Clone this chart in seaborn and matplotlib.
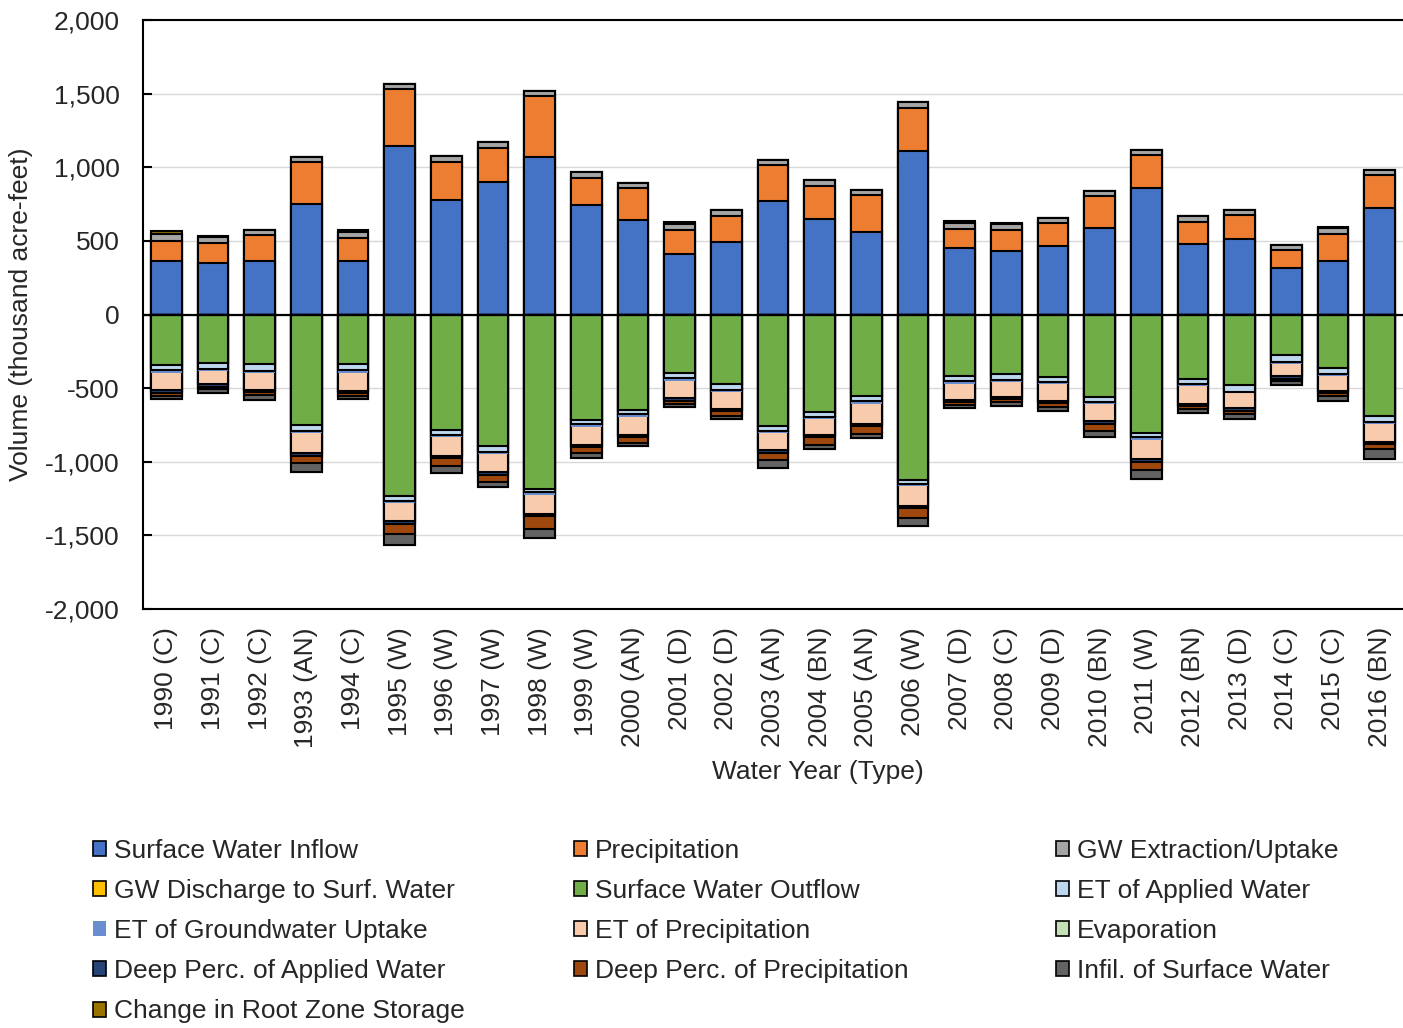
import numpy as np
import pandas as pd
import matplotlib
matplotlib.use("Agg")
import matplotlib.pyplot as plt
from matplotlib.patches import Patch
from matplotlib.ticker import FuncFormatter, MultipleLocator
import seaborn as sns

# Water years and year types
years = [1990, 1991, 1992, 1993, 1994, 1995, 1996, 1997, 1998, 1999, 2000, 2001, 2002,
         2003, 2004, 2005, 2006, 2007, 2008, 2009, 2010, 2011, 2012, 2013, 2014, 2015, 2016]
year_types = ["C", "C", "C", "AN", "C", "W", "W", "W", "W", "W", "AN", "D", "D",
              "AN", "BN", "AN", "W", "D", "C", "D", "BN", "W", "BN", "D", "C", "C", "BN"]

# Inflows (thousand acre-feet)
sw_inflow = [366, 348, 362, 749, 366, 1147, 780, 898, 1072, 744, 642, 409, 495,
             769, 649, 559, 1113, 450, 428, 466, 586, 857, 477, 513, 317, 364, 722]
precipitation = [134, 136, 176, 287, 154, 384, 256, 233, 410, 181, 218, 166, 175,
                 244, 222, 251, 289, 134, 147, 154, 222, 229, 152, 161, 120, 181, 228]
gw_extraction = [44, 43, 39, 34, 38, 37, 41, 43, 36, 45, 36, 40, 40,
                 34, 41, 34, 39, 36, 39, 34, 29, 34, 38, 39, 38, 42, 34]
gw_discharge = [0, 0, 0, 0, 0, 0, 0, 0, 0, 0, 0, 0, 0,
                0, 0, 0, 0, 0, 0, 0, 0, 0, 0, 0, 0, 0, 0]
# Change in root zone storage (positive = release from storage)
root_zone_change = [26, 4, 0, 0, 16, 0, 0, 0, 0, 0, 0, 16, 0,
                    0, 0, 0, 0, 18, 7, 0, 0, 0, 0, 0, 0, 9, 0]

# Outflows (thousand acre-feet, magnitudes)
sw_outflow = [342, 326, 337, 753, 337, 1235, 783, 896, 1183, 715, 647, 398, 470,
              756, 660, 556, 1122, 421, 407, 423, 561, 805, 439, 482, 276, 364, 692]
et_applied = [38, 43, 48, 41, 43, 34, 34, 36, 23, 29, 27, 36, 41,
              34, 37, 32, 32, 34, 36, 36, 32, 28, 32, 41, 45, 43, 36]
et_gw_uptake = [18, 16, 9, 14, 14, 14, 15, 16, 20, 21, 23, 16, 16,
                15, 13, 18, 13, 18, 16, 14, 13, 18, 15, 13, 12, 14, 14]
et_precip = [118, 88, 117, 133, 124, 122, 127, 124, 127, 120, 122, 118, 113,
             118, 109, 140, 132, 106, 102, 115, 120, 131, 120, 100, 88, 97, 122]
evaporation = [0, 0, 0, 0, 0, 0, 0, 0, 0, 0, 0, 0, 0,
               0, 0, 0, 0, 0, 0, 0, 0, 0, 0, 0, 0, 0, 0]
dp_applied = [16, 18, 16, 18, 16, 18, 18, 18, 18, 15, 13, 18, 18,
              18, 16, 14, 15, 16, 16, 16, 18, 18, 16, 16, 20, 16, 16]
dp_precip = [23, 16, 22, 50, 20, 65, 50, 46, 86, 41, 41, 20, 30,
             50, 50, 52, 68, 20, 20, 22, 46, 54, 22, 25, 12, 22, 34]
infil_sw = [20, 25, 30, 61, 21, 80, 50, 38, 61, 32, 23, 25, 22,
            54, 27, 27, 57, 23, 23, 28, 45, 64, 26, 33, 24, 34, 68]

labels = [f"{y} ({t})" for y, t in zip(years, year_types)]

colors = {
    "Surface Water Inflow": "#4472C4",
    "Precipitation": "#ED7D31",
    "GW Extraction/Uptake": "#A5A5A5",
    "GW Discharge to Surf. Water": "#FFC000",
    "Surface Water Outflow": "#70AD47",
    "ET of Applied Water": "#BDD7EE",
    "ET of Groundwater Uptake": "#698ED0",
    "ET of Precipitation": "#F8CBAD",
    "Evaporation": "#C5E0B4",
    "Deep Perc. of Applied Water": "#264478",
    "Deep Perc. of Precipitation": "#9E480E",
    "Infil. of Surface Water": "#636363",
    "Change in Root Zone Storage": "#997300",
}
no_edge = {"ET of Groundwater Uptake"}

rz = np.array(root_zone_change, dtype=float)
positive = [
    ("Surface Water Inflow", np.array(sw_inflow, float)),
    ("Precipitation", np.array(precipitation, float)),
    ("GW Extraction/Uptake", np.array(gw_extraction, float)),
    ("GW Discharge to Surf. Water", np.array(gw_discharge, float)),
    ("Change in Root Zone Storage", np.clip(rz, 0, None)),
]
negative = [
    ("Surface Water Outflow", np.array(sw_outflow, float)),
    ("ET of Applied Water", np.array(et_applied, float)),
    ("ET of Groundwater Uptake", np.array(et_gw_uptake, float)),
    ("ET of Precipitation", np.array(et_precip, float)),
    ("Evaporation", np.array(evaporation, float)),
    ("Deep Perc. of Applied Water", np.array(dp_applied, float)),
    ("Deep Perc. of Precipitation", np.array(dp_precip, float)),
    ("Infil. of Surface Water", np.array(infil_sw, float)),
    ("Change in Root Zone Storage", np.clip(-rz, 0, None)),
]

sns.set_style("white")
plt.rcParams["font.family"] = ["Liberation Sans", "DejaVu Sans"]
plt.rcParams["axes.unicode_minus"] = False
FS = 19

fig = plt.figure(figsize=(14.03, 10.28), dpi=100)
ax = fig.add_axes([143 / 1403, 1 - 609 / 1028, 1260 / 1403, 589 / 1028])

EDGE_LW = 1.5
BAR_W = 0.66


def draw_stack(series, sign):
    # cumulative totals drawn from the outermost layer inwards
    cums = np.cumsum([vals for _, vals in series], axis=0) * sign
    for (name, _), cum in reversed(list(zip(series, cums))):
        df = pd.DataFrame({"year": labels, "value": cum})
        edge = "none" if name in no_edge else "black"
        sns.barplot(data=df, x="year", y="value", order=labels, color=colors[name],
                    saturation=1, edgecolor=edge, linewidth=EDGE_LW if edge != "none" else 0,
                    width=BAR_W, errorbar=None, ax=ax, zorder=2)


draw_stack(positive, 1)
draw_stack(negative, -1)

ax.axhline(0, color="black", lw=1.6, zorder=3)
ax.set_xlim(-0.5, len(labels) - 0.5)
ax.set_ylim(-2000, 2000)
ax.yaxis.set_major_locator(MultipleLocator(500))
ax.yaxis.set_major_formatter(FuncFormatter(lambda v, p: f"{v:,.0f}"))
ax.grid(axis="y", color="#D9D9D9", lw=1.0)
ax.grid(axis="x", visible=False)
ax.set_axisbelow(True)

for side in ["left", "top", "bottom"]:
    ax.spines[side].set_visible(True)
    ax.spines[side].set_color("black")
    ax.spines[side].set_linewidth(1.5)
ax.spines["right"].set_visible(False)

ax.tick_params(axis="y", direction="in", length=6.5, width=1.5, color="black",
               labelsize=FS, pad=17, left=True)
ax.tick_params(axis="x", length=0, labelsize=FS, pad=13)
ax.set_xticks(range(len(labels)))
ax.set_xticklabels(labels, rotation=90, va="top", ha="center")

ax.set_ylabel("Volume (thousand acre-feet)", fontsize=FS)
ax.yaxis.set_label_coords((33 - 143) / 1260, 0.5)
ax.set_xlabel("Water Year (Type)", fontsize=FS)
ax.xaxis.set_label_coords((818 - 143) / 1260, (609 - 772) / 589)
ax.xaxis.label.set_va("center")

legend_order = list(colors.keys())
cols = [legend_order[0::3], legend_order[1::3], legend_order[2::3]]
col_x = [93, 574, 1056]
for names, x in zip(cols, col_x):
    handles = [Patch(facecolor=colors[n],
                     edgecolor="none" if n in no_edge else "black",
                     linewidth=0 if n in no_edge else 1.2, label=n) for n in names]
    fig.legend(handles=handles, loc="upper left",
               bbox_to_anchor=(x / 1403, 1 - 839 / 1028), frameon=False,
               fontsize=FS, handlelength=0.5, handleheight=0.5, handletextpad=0.3,
               labelspacing=0.61, borderpad=0, borderaxespad=0)

fig.savefig("out.png", dpi=100)
